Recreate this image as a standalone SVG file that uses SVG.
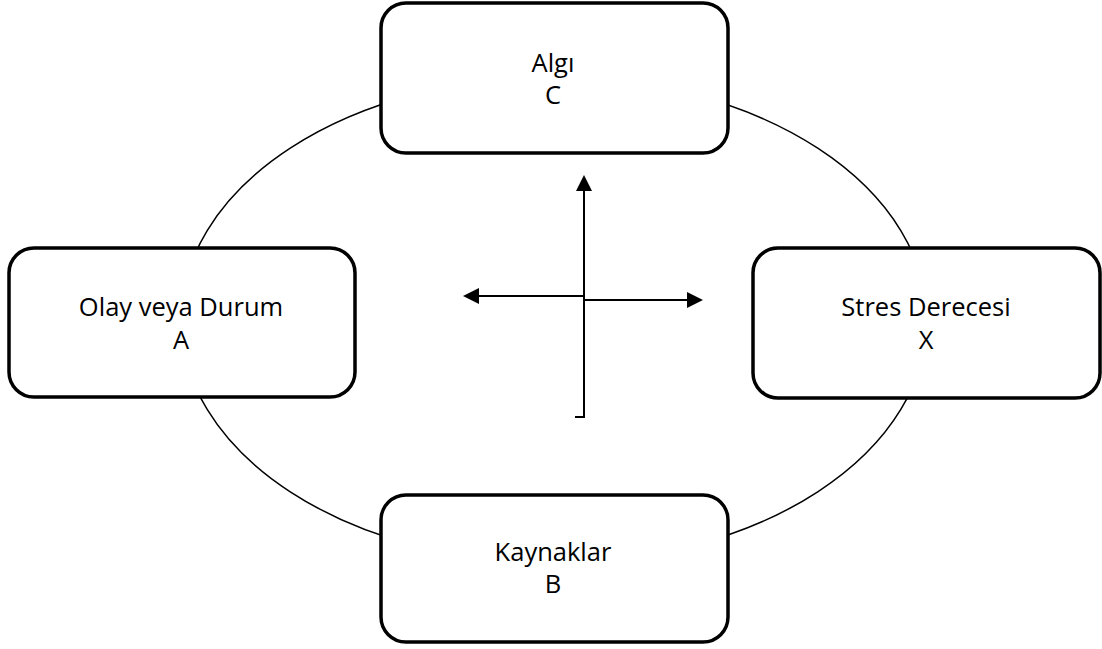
<svg xmlns="http://www.w3.org/2000/svg" width="1102" height="649" viewBox="0 0 1102 649">
<style>
.box{fill:#fff;stroke:#000;stroke-width:3.5}
.lbl{font-family:"Open Sans","Liberation Sans",sans-serif;font-size:25.5px;fill:#000;text-anchor:middle}
.ln{stroke:#000;stroke-width:2;fill:none}
</style>
<defs>
<marker id="ah" markerWidth="8" markerHeight="8" refX="7" refY="4" orient="auto" markerUnits="strokeWidth">
<path d="M0,0 L8,4 L0,8 z" fill="#000"/>
</marker>
</defs>
<rect width="1102" height="649" fill="#fff"/>
<ellipse cx="554" cy="320" rx="373" ry="243" fill="none" stroke="#000" stroke-width="1.5"/>
<g id="connectors">
<path class="ln" d="M584,297 V177" marker-end="url(#ah)"/>
<path class="ln" d="M584,296 H465" marker-end="url(#ah)"/>
<path class="ln" d="M584,300 H701" marker-end="url(#ah)"/>
<path class="ln" d="M584,296 V417 H575"/>
</g>
<g id="nodeC">
<rect class="box" x="381" y="3" width="347" height="150" rx="25"/>
<text class="lbl" x="553" y="72">Algı</text>
<text class="lbl" x="553" y="104">C</text>
</g>
<g id="nodeA">
<rect class="box" x="9" y="248" width="346" height="149" rx="25"/>
<text class="lbl" x="181" y="316">Olay veya Durum</text>
<text class="lbl" x="181" y="349">A</text>
</g>
<g id="nodeX">
<rect class="box" x="753" y="248" width="347" height="150" rx="25"/>
<text class="lbl" x="926" y="316">Stres Derecesi</text>
<text class="lbl" x="926" y="349">X</text>
</g>
<g id="nodeB">
<rect class="box" x="381" y="495" width="347" height="147" rx="25"/>
<text class="lbl" x="553" y="561">Kaynaklar</text>
<text class="lbl" x="553" y="593">B</text>
</g>
</svg>
